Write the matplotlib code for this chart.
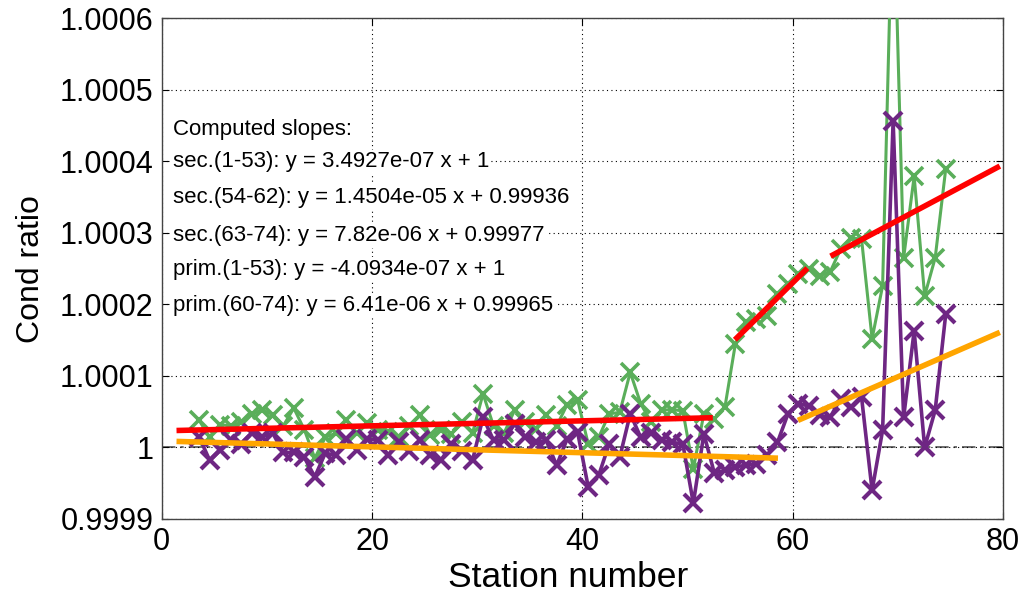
import numpy as np
import matplotlib
matplotlib.use("Agg")
import matplotlib.pyplot as plt
from matplotlib.ticker import FixedLocator, FixedFormatter

plt.rcParams['font.family'] = ['Liberation Sans', 'DejaVu Sans']

# station positions (as plotted)
stations = np.arange(3, 75) + 0.55

# secondary cond ratio (deviation from 1, units of 1e-5)
sec_dev = [3.8, 1.4, 3.2, 3.0, 3.5, 4.7, 5.2, 4.6, 3.0, 5.5,
           2.5, -1.5, 1.4, 2.0, 3.9, 2.0, 3.4, 2.5, 2.2, 1.5,
           3.0, 4.5, 1.7, 2.5, 1.9, 3.5, 2.0, 7.5, 3.0, 2.0,
           5.2, 3.5, 2.6, 4.5, 3.0, 6.0, 6.6, 0.5, 1.4, 4.7,
           4.9, 10.5, 6.1, 3.5, 5.2, 5.3, 5.1, -3.0, 4.7, 4.0,
           5.6, 14.5, 17.5, 18.0, 18.4, 21.4, 22.8, 24.2, 25.0, 24.0,
           24.5, 27.7, 29.3, 29.1, 15.2, 22.6, 80.0, 26.5, 37.9, 21.2,
           26.5, 38.9]

# primary cond ratio (deviation from 1, units of 1e-5)
prim_dev = [1.5, -1.8, -0.4, 1.0, 0.5, 2.0, 1.5, 2.0, -0.7, -0.7,
            -1.4, -4.1, -0.8, -1.1, 1.2, -0.4, 1.2, 1.0, -1.1, 0.7,
            -0.5, 1.0, -1.1, -1.8, 0.5, -0.5, -1.8, 4.2, 1.0, 1.0,
            3.3, 1.5, 0.7, 1.0, -2.5, 1.2, 2.1, -5.5, -3.9, 0.5,
            -1.4, 4.7, 1.4, 2.0, 1.0, 0.7, 0.5, -7.8, 1.9, -3.6,
            -3.2, -2.7, -2.5, -2.3, -1.1, 0.7, 4.7, 6.1, 5.8, 4.5,
            4.2, 6.8, 5.6, 7.0, -6.0, 2.4, 45.6, 4.2, 16.3, 0.0,
            5.2, 18.6]

sec = 1 + np.array(sec_dev) * 1e-5
prim = 1 + np.array(prim_dev) * 1e-5

# fitted lines: x ranges, slope, intercept
fit_x = [(1.4, 52.4), (54.5, 61.4), (63.6, 79.7), (1.4, 58.6), (60.5, 79.7)]
fit_slope = [3.4927e-07, 1.4504e-05, 7.82e-06, -4.0934e-07, 6.41e-06]
fit_icpt = [1.0000232, 0.99936, 0.99977, 1.0000090, 0.99965]
fit_color = ['#ff0000', '#ff0000', '#ff0000', '#ffa500', '#ffa500']

labels = ["Computed slopes:",
          "sec.(1-53): y = 3.4927e-07 x + 1",
          "sec.(54-62): y = 1.4504e-05 x + 0.99936",
          "sec.(63-74): y = 7.82e-06 x + 0.99977",
          "prim.(1-53): y = -4.0934e-07 x + 1",
          "prim.(60-74): y = 6.41e-06 x + 0.99965"]

yticks = [0.9999, 1.0, 1.0001, 1.0002, 1.0003, 1.0004, 1.0005, 1.0006]
ytick_labels = ["0.9999", "1", "1.0001", "1.0002", "1.0003", "1.0004", "1.0005", "1.0006"]
xticks = [0, 20, 40, 60, 80]

fig = plt.figure(figsize=(10.24, 6.06), dpi=100)
ax = fig.add_axes([0.158, 0.1436, 0.8215, 0.8264])

ax.axhline(1.0, color='#555555', lw=1.2, ls=(0, (8, 3, 2, 3)), zorder=1)

green = '#5aae5a'
purple = '#6e2683'
ax.plot(stations, sec, color=green, lw=2.2, marker='x', ms=13, mew=2.6, zorder=3)
ax.plot(stations, prim, color=purple, lw=2.6, marker='x', ms=13, mew=3.0, zorder=3)

for (x0, x1), m, b, c in zip(fit_x, fit_slope, fit_icpt, fit_color):
    xs = np.array([x0, x1])
    ax.plot(xs, m * xs + b, color=c, lw=4, zorder=4, solid_capstyle='butt')

ax.set_xlim(0, 80)
ax.set_ylim(0.9999, 1.0006)
ax.xaxis.set_major_locator(FixedLocator(xticks))
ax.yaxis.set_major_locator(FixedLocator(yticks))
ax.yaxis.set_major_formatter(FixedFormatter(ytick_labels))
ax.tick_params(direction='in', top=True, right=True, labelsize=22, length=5,
               width=0.8, pad=6)
ax.grid(True, color='black', ls=(0, (1, 3)), lw=0.8)
for s in ax.spines.values():
    s.set_color('#444444')
    s.set_linewidth(1.0)

ax.set_xlabel("Station number", fontsize=25.5)
ax.xaxis.set_label_coords(0.483, -0.083)
ax.set_ylabel("Cond ratio", fontsize=23, labelpad=10)

ys_px = [130, 162, 197, 235, 270, 305]
for lab, yp in zip(labels, ys_px):
    fig.text(173 / 1024, 1 - yp / 606, lab, fontsize=16, va='center', ha='left',
             bbox=dict(facecolor='white', edgecolor='none', pad=1.5), zorder=5)

fig.savefig("out.png", dpi=100)
